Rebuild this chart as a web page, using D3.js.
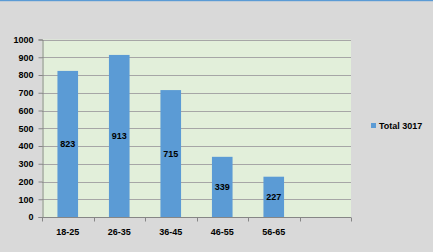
<!DOCTYPE html>
<html>
<head>
<meta charset="utf-8">
<script src="https://cdn.jsdelivr.net/npm/d3@7"></script>
<style>
  body { margin: 0; background: #d9d9d9; }
  svg { display: block; font-family: "Liberation Sans", Arial, sans-serif; }
</style>
</head>
<body>
<div id="chart"></div>
<script>
// données
var categories = ["18-25", "26-35", "36-45", "46-55", "56-65", ""];
var values = [823, 913, 715, 339, 227, null];
var yTicks = [0, 100, 200, 300, 400, 500, 600, 700, 800, 900, 1000];
var seriesName = "Total 3017";

var W = 433, H = 252;
var margin = {top: 39.5, left: 42, right: 82, bottom: 35};

var svg = d3.select("#chart").append("svg")
    .attr("width", W)
    .attr("height", H);

// fond + liseré bleu en haut
svg.append("rect").attr("width", W).attr("height", H).attr("fill", "#d9d9d9");
svg.append("rect").attr("width", W).attr("height", 1.2).attr("fill", "#5b9bd5");

var x = d3.scaleBand()
    .domain(categories.map(function(d, i) { return i; }))
    .range([margin.left, W - margin.right])
    .paddingInner(0.6)
    .paddingOuter(0.3);

var y = d3.scaleLinear()
    .domain([0, 1000])
    .range([H - margin.bottom, margin.top]);

// zone de tracé
svg.append("rect")
    .attr("x", margin.left)
    .attr("y", y(1000))
    .attr("width", W - margin.right - margin.left)
    .attr("height", y(0) - y(1000))
    .attr("fill", "#e2efda");

// grille horizontale
svg.selectAll(".grid")
    .data(yTicks.filter(function(d) { return d > 0; }))
    .enter().append("line")
    .attr("x1", margin.left)
    .attr("x2", W - margin.right)
    .attr("y1", function(d) { return Math.round(y(d)) + 0.5; })
    .attr("y2", function(d) { return Math.round(y(d)) + 0.5; })
    .attr("stroke", "#a6a6a6")
    .attr("stroke-width", 1);

var barData = values.map(function(v, i) { return {v: v, i: i}; })
    .filter(function(d) { return d.v !== null; });

// barres
svg.selectAll(".bar")
    .data(barData)
    .enter().append("rect")
    .attr("x", function(d) { return x(d.i); })
    .attr("y", function(d) { return y(d.v); })
    .attr("width", x.bandwidth())
    .attr("height", function(d) { return y(0) - y(d.v); })
    .attr("fill", "#5b9bd5");

// étiquettes des valeurs
svg.selectAll(".lbl")
    .data(barData)
    .enter().append("text")
    .attr("x", function(d) { return x(d.i) + x.bandwidth() / 2; })
    .attr("y", function(d) { return (y(d.v) + y(0)) / 2; })
    .attr("dy", "0.35em")
    .attr("text-anchor", "middle")
    .attr("font-size", 9)
    .attr("font-weight", "bold")
    .attr("fill", "#000")
    .text(function(d) { return d.v; });

// axe y
var yAxis = svg.append("g")
    .attr("transform", "translate(" + (margin.left + 0.5) + ",0)")
    .call(d3.axisLeft(y).tickValues(yTicks).tickFormat(d3.format("d")).tickSize(4).tickPadding(5));
yAxis.selectAll("text").attr("font-size", 9).attr("font-weight", "bold").attr("fill", "#000")
    .attr("font-family", "Liberation Sans, Arial, sans-serif");
yAxis.selectAll("line, path").attr("stroke", "#868686");

// axe x (graduations entre les catégories)
var xLine = svg.append("g");
xLine.append("line")
    .attr("x1", margin.left).attr("x2", W - margin.right)
    .attr("y1", Math.round(y(0)) + 0.5).attr("y2", Math.round(y(0)) + 0.5)
    .attr("stroke", "#868686");
var bounds = d3.range(categories.length + 1).map(function(i) {
    return margin.left + i * (W - margin.right - margin.left) / categories.length;
});
xLine.selectAll(".xt")
    .data(bounds)
    .enter().append("line")
    .attr("x1", function(d) { return Math.round(d) + 0.5; })
    .attr("x2", function(d) { return Math.round(d) + 0.5; })
    .attr("y1", Math.round(y(0)) + 0.5)
    .attr("y2", Math.round(y(0)) + 4.5)
    .attr("stroke", "#868686");

svg.selectAll(".xl")
    .data(categories)
    .enter().append("text")
    .attr("x", function(d, i) { return x(i) + x.bandwidth() / 2; })
    .attr("y", 235)
    .attr("text-anchor", "middle")
    .attr("font-size", 9)
    .attr("font-weight", "bold")
    .attr("fill", "#000")
    .text(function(d) { return d; });

// légende
svg.append("rect")
    .attr("x", 371).attr("y", 123)
    .attr("width", 5).attr("height", 5)
    .attr("fill", "#5b9bd5");
svg.append("text")
    .attr("x", 379).attr("y", 129)
    .attr("font-size", 9)
    .attr("font-weight", "bold")
    .attr("fill", "#000")
    .text(seriesName);
</script>
</body>
</html>
